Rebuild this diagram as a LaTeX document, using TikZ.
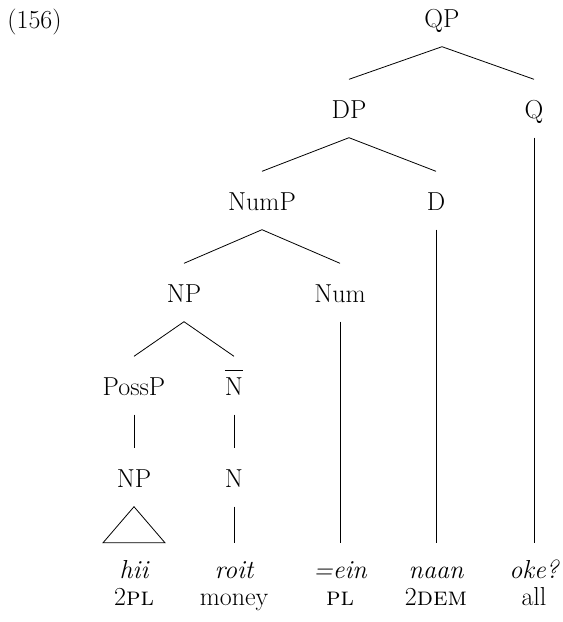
\documentclass[tikz,border=0pt]{standalone}
\newcommand{\barN}{\setbox0\hbox{N}\rlap{\rule[\dimexpr\ht0+6pt\relax]{\wd0}{1.1pt}}N}
\begin{document}
\begin{tikzpicture}[x=1pt,y=-1pt,
  lab/.style={anchor=base,inner xsep=0pt,inner ysep=19.5pt,text height=19pt,text depth=0pt,font=\fontsize{26}{31}\selectfont},
  word/.style={lab,inner ysep=16pt,font=\fontsize{26}{31}\selectfont\itshape},
  gloss/.style={lab,inner ysep=0pt},
  edge/.style={line width=0.8pt},
]
\useasboundingbox (0,0) rectangle (563,622);
\node[gloss] (ex) at (34.5,28) {(156)};
\node[lab] (QP) at (442,27) {QP};
\node[lab] (DP) at (349,118) {DP};
\node[lab] (Q) at (534,118) {Q};
\node[lab] (NumP) at (262,210) {NumP};
\node[lab] (D) at (436,210) {D};
\node[lab] (NPa) at (184,302) {NP};
\node[lab] (Num) at (340,302) {Num};
\node[lab] (PossP) at (134,395) {PossP};
\node[lab] (Nbar) at (234,395) {\barN};
\node[lab] (NPb) at (134,487) {NP};
\node[lab] (N) at (234,487) {N};
\node[word] (w1) at (134,578) {hii};
\node[word] (w2) at (234,578) {roit};
\node[word] (w3) at (340,578) {=ein};
\node[word] (w4) at (436,578) {naan};
\node[word] (w5) at (534,578) {oke?};
\node[gloss] (g1) at (134,605) {2\textsc{pl}};
\node[gloss] (g2) at (234,605) {money};
\node[gloss] (g3) at (340,605) {\textsc{pl}};
\node[gloss] (g4) at (436,605) {2\textsc{dem}};
\node[gloss] (g5) at (534,605) {all};
\draw[edge] (QP.south) -- (DP.north);
\draw[edge] (QP.south) -- (Q.north);
\draw[edge] (DP.south) -- (NumP.north);
\draw[edge] (DP.south) -- (D.north);
\draw[edge] (NumP.south) -- (NPa.north);
\draw[edge] (NumP.south) -- (Num.north);
\draw[edge] (NPa.south) -- (PossP.north);
\draw[edge] (NPa.south) -- (Nbar.north);
\draw[edge] (PossP.south) -- (NPb.north);
\draw[edge] (Nbar.south) -- (N.north);
\draw[edge] (NPb.south) -- ([xshift=-31pt]w1.north) -- ([xshift=31pt]w1.north) -- cycle;
\draw[edge] (N.south) -- (w2.north);
\draw[edge] (Num.south) -- (w3.north);
\draw[edge] (D.south) -- (w4.north);
\draw[edge] (Q.south) -- (w5.north);
\end{tikzpicture}
\end{document}
